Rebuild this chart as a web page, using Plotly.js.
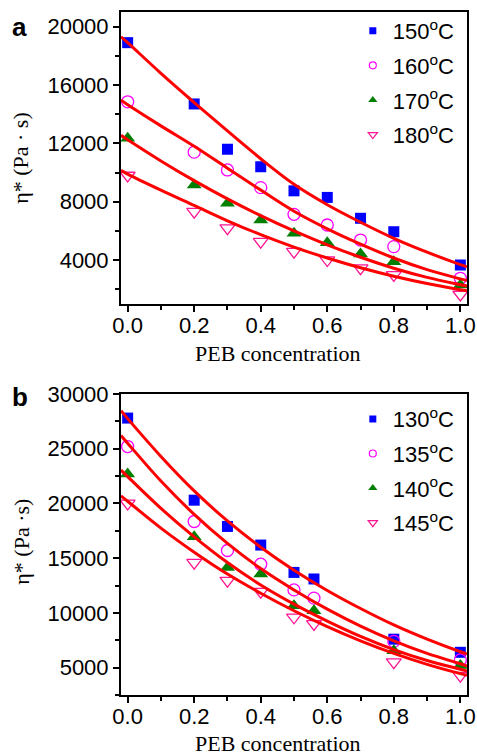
<!DOCTYPE html>
<html><head><meta charset="utf-8">
<script src="https://cdn.plot.ly/plotly-3.0.1.min.js"></script>
<style>html,body{margin:0;padding:0;background:#fff}</style>
</head><body><div id="chart" style="width:477px;height:756px"></div>
<script>
// ---- Panel a data ----
const xA = [0, 0.2, 0.3, 0.4, 0.5, 0.6, 0.7, 0.8, 1.0];
const a150 = [18900, 14700, 11600, 10400, 8750, 8300, 6870, 5950, 3670];
const a160 = [14850, 11400, 10180, 8970, 7140, 6410, 5380, 4930, 2760];
const a170 = [12350, 9150, 7900, 6750, 5840, 5200, 4430, 3900, 2300];
const a180 = [9800, 7320, 6190, 5270, 4580, 4010, 3450, 2990, 1650];
const xFit = [-0.02, 0, 0.1, 0.2, 0.3, 0.4, 0.5, 0.6, 0.7, 0.8, 0.9, 1.0, 1.02];
const fitA150 = [19300, 18900, 16800, 14800, 12850, 10950, 9200, 7800, 6600, 5500, 4550, 3700, 3550];
const fitA160 = [14950, 14650, 13200, 11800, 10300, 8800, 7350, 6150, 5100, 4150, 3350, 2720, 2600];
const fitA170 = [12550, 12250, 10800, 9450, 8200, 7050, 6000, 5050, 4200, 3450, 2820, 2320, 2230];
const fitA180 = [10150, 9900, 8800, 7750, 6700, 5750, 4900, 4150, 3480, 2900, 2400, 1980, 1900];
const labelsA = ['150<sup>o</sup>C', '160<sup>o</sup>C', '170<sup>o</sup>C', '180<sup>o</sup>C'];

// ---- Panel b data ----
const xB = [0, 0.2, 0.3, 0.4, 0.5, 0.56, 0.8, 1.0];
const b130 = [27800, 20300, 17900, 16200, 13700, 13100, 7600, 6400];
const b135 = [25200, 18350, 15700, 14450, 12100, 11350, 7400, 5700];
const b140 = [22700, 16950, 14150, 13550, 10650, 10200, 6550, 5200];
const b145 = [20000, 14600, 12950, 11950, 9600, 9000, 5500, 4270];
const fitB130 = [28480, 27750, 24300, 21150, 18400, 16000, 13900, 12050, 10400, 8900, 7600, 6450, 6250];
const fitB135 = [26200, 25500, 22050, 19000, 16350, 14050, 12100, 10350, 8800, 7450, 6300, 5350, 5150];
const fitB140 = [23050, 22450, 19550, 16950, 14600, 12550, 10800, 9250, 7850, 6650, 5650, 4850, 4700];
const fitB145 = [20700, 20200, 17750, 15550, 13550, 11800, 10200, 8750, 7450, 6300, 5300, 4450, 4300];
const labelsB = ['130<sup>o</sup>C', '135<sup>o</sup>C', '140<sup>o</sup>C', '145<sup>o</sup>C'];

const styles = [
  {symbol: 'square', color: '#0000ff', size: 11, lsize: 7, open: false},
  {symbol: 'circle-open', color: '#ff00ff', size: 12, lsize: 7, open: true},
  {symbol: 'triangle-up', color: '#007f00', size: 13, lsize: 8, open: false},
  {symbol: 'triangle-down-open', color: '#ff1493', size: 13, lsize: 8, open: true}
];

const traces = [];
function addPanel(xs, series, fits, labels, xa, ya, leg) {
  series.forEach((ys, i) => {
    const s = styles[i];
    traces.push({x: xs, y: ys, xaxis: xa, yaxis: ya, type: 'scatter', mode: 'markers',
      showlegend: false, hoverinfo: 'skip',
      marker: {symbol: s.symbol, color: s.color, size: s.size, line: {color: s.color, width: s.open ? 1.3 : 0}}});
  });
  fits.forEach((ys) => {
    traces.push({x: xFit, y: ys, xaxis: xa, yaxis: ya, type: 'scatter', mode: 'lines',
      showlegend: false, hoverinfo: 'skip', line: {color: '#ff0000', width: 3, shape: 'spline'}});
  });
  labels.forEach((lab, i) => {
    const s = styles[i];
    traces.push({x: [null], y: [null], xaxis: xa, yaxis: ya, type: 'scatter', mode: 'markers',
      name: lab, legend: leg, legendgroup: leg + i,
      marker: {symbol: s.symbol, color: s.color, size: s.lsize, line: {color: s.color, width: s.open ? 1.2 : 0}}});
  });
}
addPanel(xA, [a150, a160, a170, a180], [fitA150, fitA160, fitA170, fitA180], labelsA, 'x', 'y', 'legend');
addPanel(xB, [b130, b135, b140, b145], [fitB130, fitB135, fitB140, fitB145], labelsB, 'x2', 'y2', 'legend2');

const sans = 'Arial, Liberation Sans, sans-serif';
const serif = 'Times New Roman, Liberation Serif, serif';
const tickFont = {family: sans, size: 22, color: '#000'};

function xAxis(anchor) {
  return {domain: [0, 1], anchor: anchor, range: [-0.02, 1.02], dtick: 0.2, tick0: 0, tickformat: '.1f',
    ticks: 'outside', ticklen: 6, tickwidth: 2, tickcolor: '#000', ticklabelstandoff: -5,
    minor: {dtick: 0.1, ticks: 'outside', ticklen: 4, tickwidth: 2, tickcolor: '#000'},
    showline: true, linewidth: 2, linecolor: '#000', mirror: true, showgrid: false, zeroline: false,
    tickfont: tickFont};
}
function yAxis(anchor, dom, rng, dt) {
  return {domain: dom, anchor: anchor, range: rng, dtick: dt, tick0: 0, tickformat: 'd',
    ticks: 'outside', ticklen: 6, tickwidth: 2, tickcolor: '#000',
    minor: {dtick: dt / 2, ticks: 'outside', ticklen: 4, tickwidth: 2, tickcolor: '#000'},
    showline: true, linewidth: 2, linecolor: '#000', mirror: true, showgrid: false, zeroline: false,
    tickfont: tickFont};
}

const legendBase = {font: {family: sans, size: 22, color: '#000'}, bgcolor: 'rgba(0,0,0,0)',
  borderwidth: 0, tracegroupgap: 3, itemwidth: 30, xanchor: 'left', yanchor: 'top'};

const layout = {
  width: 477, height: 756,
  margin: {l: 121, r: 10, t: 12, b: 61},
  paper_bgcolor: '#fff', plot_bgcolor: '#fff',
  xaxis: xAxis('y'),
  yaxis: yAxis('x', [0.5725, 1], [1000, 21000], 4000),
  xaxis2: xAxis('y2'),
  yaxis2: yAxis('x2', [0, 0.4407], [2500, 30000], 5000),
  legend: Object.assign({x: 0.67, y: 1.0, yref: 'paper'}, legendBase, {y: 1.003}),
  legend2: Object.assign({x: 0.67}, legendBase, {y: 0.4407 - 0.006}),
  annotations: [
    {text: '<b>a</b>', xref: 'paper', yref: 'paper', x: -0.293, y: 1.0, xanchor: 'center', yanchor: 'top', yshift: 2,
     showarrow: false, font: {family: sans, size: 26, color: '#000'}},
    {text: '<b>b</b>', xref: 'paper', yref: 'paper', x: -0.293, y: 0.4407, xanchor: 'center', yanchor: 'top', yshift: 14,
     showarrow: false, font: {family: sans, size: 26, color: '#000'}},
    {text: 'PEB concentration', xref: 'paper', yref: 'paper', x: 0.455, y: 0.5725, xanchor: 'center', yanchor: 'middle', yshift: -50,
     showarrow: false, font: {family: serif, size: 22, color: '#000'}},
    {text: 'PEB concentration', xref: 'paper', yref: 'paper', x: 0.455, y: 0, xanchor: 'center', yanchor: 'middle', yshift: -48,
     showarrow: false, font: {family: serif, size: 22, color: '#000'}},
    {text: 'η* (Pa · s)', xref: 'paper', yref: 'paper', x: -0.29, y: 0.786, xanchor: 'center', yanchor: 'middle', textangle: -90,
     showarrow: false, font: {family: serif, size: 22, color: '#000'}},
    {text: 'η* (Pa ·s)', xref: 'paper', yref: 'paper', x: -0.29, y: 0.224, xanchor: 'center', yanchor: 'middle', textangle: -90,
     showarrow: false, font: {family: serif, size: 22, color: '#000'}}
  ]
};

Plotly.newPlot('chart', traces, layout, {staticPlot: true, displayModeBar: false});
</script></body></html>
